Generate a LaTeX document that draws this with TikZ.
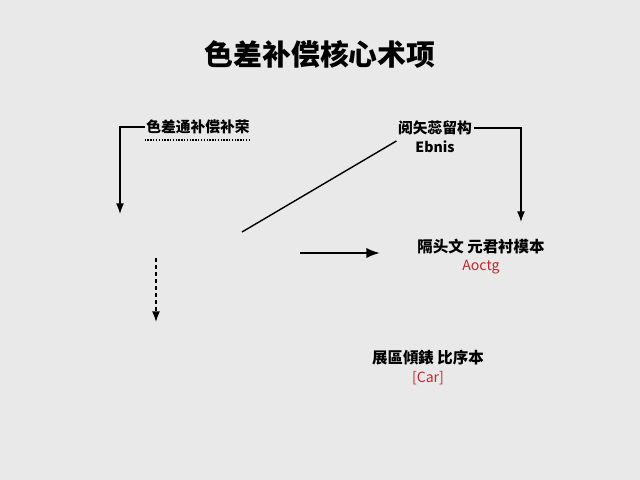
\documentclass[tikz,border=0pt]{standalone}
\usepackage{fontspec}
\setmainfont{Noto Sans CJK SC}
\usetikzlibrary{arrows.meta, positioning}

\definecolor{bgc}{HTML}{E9E9E9}
\definecolor{redtxt}{HTML}{C0282D}

\begin{document}
\begin{tikzpicture}[x=0.025cm, y=-0.025cm, node distance=2pt, >=Latex,
  every node/.style={inner sep=1pt, font=\fontsize{10.5}{12}\selectfont},
  big/.style={font=\fontsize{11}{13}\selectfont},
  sub/.style={font=\fontsize{10}{12}\selectfont},
  link/.style={line width=1pt}]

% Background
\fill[bgc] (0,0) rectangle (640,480);
\useasboundingbox (0,0) rectangle (640,480);

% Nodes
\node (title) at (320,54) {\fontsize{20.5}{24}\selectfont\bfseries 色差补偿核心术项};
\node (comp) at (198,127) {\bfseries 色差通补偿补荣};
\node (ctrl) at (435,128) {\bfseries 阅矢蕊留构};
\node (ctrlsub) [sub, below=of ctrl] {\bfseries Ebnis};
\node (algo) at (481,247) [big] {\bfseries 隔头文 元君衬模本};
\node (algosub) [sub, text=redtxt, below=of algo] {Aoctg};
\node (base) at (428,358) [big] {\bfseries 展區傾錶 比序本};
\node (basesub) [sub, text=redtxt, below=of base] {[Car]};

\coordinate (compend) at (120,214);
\coordinate (dashtop) at (156,258);
\coordinate (dashend) at (156,322);
\coordinate (diagend) at (242,232);
\coordinate (hstart) at (300,253);
\coordinate (hend) at (380,253);
\coordinate (ctrlend) at (521,222);

% Arrows
\draw[densely dotted, line width=1pt] ([yshift=-3pt]comp.south west) -- ([yshift=-3pt]comp.south east);
\draw[link, ->] (comp.west) -| (compend);
\draw[link, ->, densely dashed] (dashtop) -- (dashend);
\draw[link] (diagend) -- ([yshift=-3pt]ctrl.south west);
\draw[line width=1.5pt, ->] (hstart) -- (hend);
\draw[link, ->] (ctrl.east) -| (ctrlend);

\end{tikzpicture}
\end{document}
